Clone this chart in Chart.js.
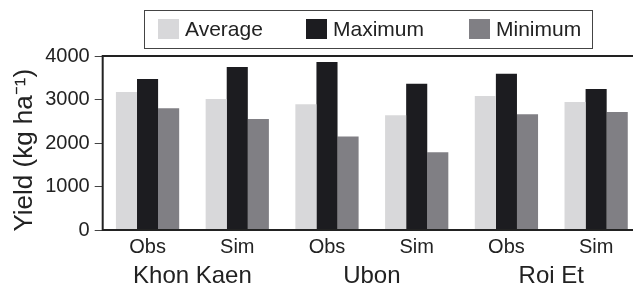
<!DOCTYPE html>
<html>
<head>
<meta charset="utf-8">
<script src="https://cdn.jsdelivr.net/npm/chart.js@4.4.1/dist/chart.umd.min.js"></script>
<style>
    html, body { margin: 0; padding: 0; background: #fff; overflow: hidden; }
    #wrap { width: 641px; height: 288px; position: relative; }
</style>
</head>
<body>
<div id="wrap"><canvas id="yieldChart"></canvas></div>
<script>
// categories (Obs / Sim per site)
const categories = ['Obs', 'Sim', 'Obs', 'Sim', 'Obs', 'Sim'];
const sites = ['Khon Kaen', 'Ubon', 'Roi Et'];

// yield values, kg/ha
const averageYield = [3170, 3010, 2890, 2640, 3080, 2940];
const maximumYield = [3470, 3750, 3860, 3360, 3590, 3240];
const minimumYield = [2800, 2550, 2150, 1790, 2660, 2710];

const yTicks = [0, 1000, 2000, 3000, 4000];

const FONT = "'Liberation Sans', Arial, Helvetica, sans-serif";
const INK = '#222';

// boxed legend at the top, like the original figure
const boxLegend = {
    id: 'boxLegend',
    afterDraw(chart) {
        const ctx = chart.ctx;
        const swatchX = [158, 306, 469];
        ctx.save();
        ctx.strokeStyle = '#444';
        ctx.lineWidth = 1;
        ctx.strokeRect(144.5, 10.5, 448, 38);
        ctx.font = '21px ' + FONT;
        ctx.textBaseline = 'middle';
        chart.data.datasets.forEach((ds, i) => {
            ctx.fillStyle = ds.backgroundColor;
            ctx.fillRect(swatchX[i], 19, 21, 20);
            ctx.fillStyle = INK;
            ctx.fillText(ds.label, swatchX[i] + 27, 30);
        });
        ctx.restore();
    }
};

// frame round the plot area
const plotFrame = {
    id: 'plotFrame',
    afterDatasetsDraw(chart) {
        const { ctx, chartArea } = chart;
        ctx.save();
        ctx.strokeStyle = INK;
        ctx.lineWidth = 2;
        ctx.strokeRect(chartArea.left, chartArea.top, chartArea.right - chartArea.left, chartArea.bottom - chartArea.top);
        ctx.restore();
    }
};

const ctx = document.getElementById('yieldChart').getContext('2d');
new Chart(ctx, {
    type: 'bar',
    data: {
        labels: categories,
        datasets: [
            { label: 'Average', data: averageYield, backgroundColor: '#d8d8da' },
            { label: 'Maximum', data: maximumYield, backgroundColor: '#1c1c20' },
            { label: 'Minimum', data: minimumYield, backgroundColor: '#807f84' }
        ]
    },
    options: {
        responsive: true,
        maintainAspectRatio: false,
        animation: false,
        categoryPercentage: 0.705,
        barPercentage: 1.0,
        layout: { padding: { top: 56, right: 0, left: 8, bottom: 0 } },
        scales: {
            x: {
                offset: true,
                grid: { display: false, drawTicks: false },
                border: { display: false },
                ticks: { color: INK, font: { family: FONT, size: 20 }, padding: 5 }
            },
            site: {
                type: 'category',
                labels: sites,
                position: 'bottom',
                offset: true,
                grid: { display: false, drawTicks: false },
                border: { display: false },
                ticks: { color: INK, font: { family: FONT, size: 24, lineHeight: 1.0 }, padding: 0 }
            },
            y: {
                min: yTicks[0],
                max: yTicks[yTicks.length - 1],
                afterBuildTicks: axis => { axis.ticks = yTicks.map(v => ({ value: v })); },
                grid: { drawOnChartArea: false, drawTicks: true, tickLength: 8, color: '#444', lineWidth: 1 },
                border: { display: false },
                ticks: {
                    color: INK,
                    font: { family: FONT, size: 20 },
                    padding: 5,
                    callback: v => String(v)
                },
                title: {
                    display: true,
                    text: 'Yield (kg ha⁻¹)  ',
                    color: INK,
                    font: { family: FONT, size: 26 },
                    padding: { top: 1, bottom: 0 }
                }
            }
        },
        plugins: {
            legend: { display: false },
            tooltip: { enabled: false }
        }
    },
    plugins: [boxLegend, plotFrame]
});
</script>
</body>
</html>
